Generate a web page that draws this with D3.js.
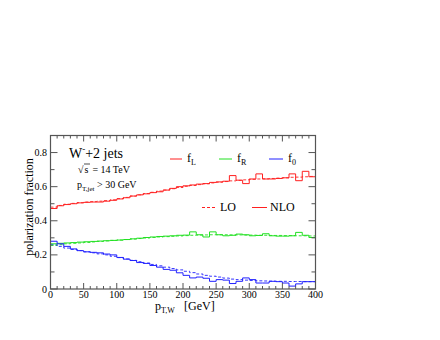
<!DOCTYPE html>
<html>
<head>
<meta charset="utf-8">
<script src="https://cdn.jsdelivr.net/npm/d3@7"></script>
<style>
  body { margin: 0; background: #fff; }
</style>
</head>
<body>
<svg id="chart" width="440" height="340" font-family="'Liberation Serif', 'Times New Roman', 'DejaVu Serif', serif"></svg>
<script>
// bins of 10 GeV from 0 to 400
var binEdges = d3.range(0, 401, 10);
var xTicks = [0, 50, 100, 150, 200, 250, 300, 350, 400];
var yTicks = [0, 0.2, 0.4, 0.6, 0.8];

var fL_nlo = [0.472, 0.488, 0.495, 0.500, 0.505, 0.508, 0.510, 0.510, 0.515, 0.520,
              0.528, 0.535, 0.545, 0.552, 0.558, 0.565, 0.570, 0.580, 0.590, 0.600,
              0.605, 0.610, 0.615, 0.618, 0.625, 0.628, 0.632, 0.665, 0.638, 0.618,
              0.645, 0.675, 0.645, 0.645, 0.648, 0.652, 0.675, 0.635, 0.690, 0.658];
var fL_lo  = [0.480, 0.490, 0.497, 0.502, 0.506, 0.510, 0.512, 0.515, 0.518, 0.523,
              0.530, 0.537, 0.545, 0.552, 0.560, 0.567, 0.574, 0.580, 0.588, 0.595,
              0.602, 0.607, 0.612, 0.617, 0.622, 0.626, 0.630, 0.634, 0.637, 0.640,
              0.643, 0.645, 0.646, 0.648, 0.650, 0.652, 0.655, 0.656, 0.658, 0.660];
var fR_nlo = [0.265, 0.268, 0.270, 0.272, 0.275, 0.277, 0.279, 0.281, 0.283, 0.285,
              0.287, 0.290, 0.294, 0.298, 0.302, 0.305, 0.308, 0.310, 0.312, 0.315,
              0.316, 0.335, 0.318, 0.305, 0.335, 0.318, 0.312, 0.315, 0.322, 0.318,
              0.312, 0.314, 0.324, 0.312, 0.310, 0.310, 0.312, 0.332, 0.315, 0.302];
var fR_lo  = [0.255, 0.260, 0.265, 0.268, 0.270, 0.273, 0.276, 0.279, 0.282, 0.285,
              0.287, 0.290, 0.293, 0.296, 0.299, 0.302, 0.305, 0.307, 0.309, 0.311,
              0.313, 0.315, 0.316, 0.317, 0.318, 0.318, 0.318, 0.317, 0.317, 0.316,
              0.316, 0.315, 0.315, 0.314, 0.314, 0.313, 0.313, 0.312, 0.312, 0.311];
var f0_nlo = [0.280, 0.265, 0.250, 0.235, 0.225, 0.218, 0.215, 0.212, 0.205, 0.200,
              0.185, 0.175, 0.167, 0.155, 0.150, 0.138, 0.128, 0.115, 0.110, 0.095,
              0.080, 0.065, 0.070, 0.063, 0.045, 0.055, 0.052, 0.032, 0.045, 0.065,
              0.055, 0.035, 0.035, 0.045, 0.043, 0.035, 0.017, 0.030, 0.043, 0.043];
var f0_lo  = [0.260, 0.250, 0.240, 0.232, 0.225, 0.218, 0.212, 0.206, 0.200, 0.192,
              0.184, 0.176, 0.168, 0.160, 0.152, 0.144, 0.136, 0.128, 0.120, 0.112,
              0.104, 0.096, 0.088, 0.080, 0.075, 0.070, 0.064, 0.058, 0.055, 0.052,
              0.050, 0.048, 0.047, 0.046, 0.045, 0.045, 0.044, 0.044, 0.043, 0.043];

var red = "#ff2020", green = "#20e020", blue = "#2020ff";

var svg = d3.select("#chart");
var m = { left: 50.5, top: 135.5, right: 315.5, bottom: 289 };
var x = d3.scaleLinear().domain([0, 400]).range([m.left, m.right]);
var y = d3.scaleLinear().domain([0, 0.9]).range([m.bottom, m.top]);

svg.append("clipPath").attr("id", "clip").append("rect")
    .attr("x", m.left).attr("y", m.top)
    .attr("width", m.right - m.left).attr("height", m.bottom - m.top);

// histogram as step path
function steps(vals) {
    var pts = [];
    vals.forEach(function (v, i) {
        pts.push([binEdges[i], v]);
        pts.push([binEdges[i + 1], v]);
    });
    return d3.line().x(function (d) { return x(d[0]); }).y(function (d) { return y(d[1]); })(pts);
}

var plot = svg.append("g").attr("clip-path", "url(#clip)");
[[fL_lo, red], [fR_lo, green], [f0_lo, blue]].forEach(function (s) {
    plot.append("path").attr("d", steps(s[0])).attr("fill", "none")
        .attr("stroke", s[1]).attr("stroke-width", 0.9).attr("stroke-dasharray", "3,2");
});
[[fL_nlo, red], [fR_nlo, green], [f0_nlo, blue]].forEach(function (s) {
    plot.append("path").attr("d", steps(s[0])).attr("fill", "none")
        .attr("stroke", s[1]).attr("stroke-width", 1);
});

// frame and ticks
var axisCol = "#555";
svg.append("rect").attr("x", m.left).attr("y", m.top)
    .attr("width", m.right - m.left).attr("height", m.bottom - m.top)
    .attr("fill", "none").attr("stroke", axisCol).attr("stroke-width", 1.2);

var tk = svg.append("g").attr("stroke", axisCol).attr("stroke-width", 1);
d3.range(0, 401, 10).forEach(function (v) {
    var len = v % 50 === 0 ? 6 : 3;
    tk.append("line").attr("x1", x(v)).attr("x2", x(v)).attr("y1", m.bottom).attr("y2", m.bottom - len);
    tk.append("line").attr("x1", x(v)).attr("x2", x(v)).attr("y1", m.top).attr("y2", m.top + len);
});
d3.range(0, 9).forEach(function (i) {
    var v = i / 10;
    var len = i % 2 === 0 ? 7 : 4;
    tk.append("line").attr("x1", m.left).attr("x2", m.left + len).attr("y1", y(v)).attr("y2", y(v));
    tk.append("line").attr("x1", m.right).attr("x2", m.right - len).attr("y1", y(v)).attr("y2", y(v));
});

svg.append("g").selectAll("text").data(xTicks).join("text")
    .attr("x", function (d) { return x(d); }).attr("y", 298)
    .attr("text-anchor", "middle").attr("font-size", 10).text(function (d) { return d; });
svg.append("g").selectAll("text").data(yTicks).join("text")
    .attr("x", 47).attr("y", function (d) { return y(d) + 3.5; })
    .attr("text-anchor", "end").attr("font-size", 10).text(function (d) { return d === 0 ? "0" : d; });

// axis titles
var xl = svg.append("text").attr("x", 155).attr("y", 310).attr("font-size", 12);
xl.append("tspan").text("p");
xl.append("tspan").attr("font-size", 8).attr("dy", 3).text("T,W");
xl.append("tspan").attr("dy", -3).attr("x", 184).text("[GeV]");

svg.append("text").attr("transform", "translate(33,207) rotate(-90)")
    .attr("text-anchor", "middle").attr("font-size", 12).text("polarization fraction");

// annotations
var t1 = svg.append("text").attr("x", 69).attr("y", 158).attr("font-size", 14);
t1.append("tspan").text("W");
t1.append("tspan").attr("font-size", 9).attr("dy", -6).text("-");
t1.append("tspan").attr("dy", 6).text("+2 jets");

var t2 = svg.append("text").attr("x", 78).attr("y", 173).attr("font-size", 10);
t2.append("tspan").text("\u221A");
t2.append("tspan").attr("dx", 1).text("s");
t2.append("tspan").attr("dx", 4).text("=  14 TeV");
svg.append("line").attr("x1", 84).attr("x2", 90).attr("y1", 164).attr("y2", 164)
    .attr("stroke", "#000").attr("stroke-width", 0.7);

var t3 = svg.append("text").attr("x", 77).attr("y", 188).attr("font-size", 10);
t3.append("tspan").text("p");
t3.append("tspan").attr("font-size", 7).attr("dy", 3).text("T,jet");
t3.append("tspan").attr("dy", -3).text(" > 30 GeV");

// legends
var leg = [
    { x1: 170, x2: 182, tx: 187, col: red, sub: "L" },
    { x1: 219, x2: 232, tx: 237, col: green, sub: "R" },
    { x1: 269, x2: 283, tx: 288, col: blue, sub: "0" }
];
leg.forEach(function (d) {
    svg.append("line").attr("x1", d.x1).attr("x2", d.x2).attr("y1", 159).attr("y2", 159)
        .attr("stroke", d.col).attr("stroke-width", 1);
    var t = svg.append("text").attr("x", d.tx).attr("y", 162).attr("font-size", 12);
    t.append("tspan").text("f");
    t.append("tspan").attr("font-size", 8).attr("dy", 3).text(d.sub);
});
svg.append("line").attr("x1", 202).attr("x2", 216).attr("y1", 207.5).attr("y2", 207.5)
    .attr("stroke", red).attr("stroke-dasharray", "3,2");
svg.append("text").attr("x", 220).attr("y", 211).attr("font-size", 12).text("LO");
svg.append("line").attr("x1", 252).attr("x2", 267).attr("y1", 207.5).attr("y2", 207.5)
    .attr("stroke", red);
svg.append("text").attr("x", 270).attr("y", 211).attr("font-size", 12).text("NLO");
</script>
</body>
</html>
